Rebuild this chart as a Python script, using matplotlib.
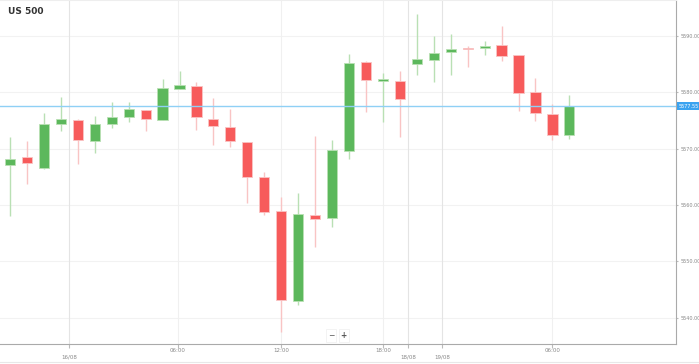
import numpy as np
import matplotlib.pyplot as plt

# hourly candles
opens = [5567.06, 5568.48, 5566.52, 5574.40, 5575.11, 5571.38, 5574.40, 5575.64, 5576.89, 5575.11,
         5580.62, 5581.16, 5575.29, 5573.92, 5571.15, 5564.92, 5558.93, 5542.99, 5558.17, 5557.64,
         5569.65, 5585.37, 5582.10, 5582.10, 5585.12, 5585.83, 5587.15, 5587.86, 5587.91, 5588.44,
         5586.61, 5580.04, 5576.12, 5572.39]
closes = [5568.12, 5567.41, 5574.35, 5575.29, 5571.56, 5574.35, 5575.59, 5577.01, 5575.29, 5580.80,
          5581.33, 5575.59, 5574.10, 5571.32, 5565.03, 5558.81, 5543.11, 5558.40, 5557.51, 5569.78,
          5585.30, 5582.22, 5582.35, 5578.79, 5586.01, 5587.08, 5587.73, 5587.68, 5588.21, 5586.49,
          5579.86, 5576.30, 5572.44, 5577.55]
highs = [5572.04, 5571.38, 5576.30, 5579.25, 5575.20, 5575.82, 5578.26, 5578.26, 5576.95, 5582.35,
         5583.82, 5581.87, 5579.08, 5577.01, 5571.20, 5565.81, 5561.37, 5562.08, 5572.27, 5571.56,
         5586.79, 5585.65, 5583.52, 5583.82, 5593.96, 5590.04, 5590.35, 5588.27, 5589.21, 5591.82,
         5586.70, 5582.52, 5577.96, 5579.50]
lows = [5558.10, 5563.68, 5566.40, 5573.16, 5567.34, 5569.19, 5573.74, 5574.70, 5573.10, 5575.05,
        5580.55, 5573.33, 5570.67, 5570.36, 5560.30, 5558.17, 5537.48, 5542.22, 5552.59, 5556.14,
        5568.12, 5576.59, 5574.70, 5572.14, 5583.06, 5581.87, 5583.06, 5584.59, 5586.61, 5585.55,
        5576.66, 5574.88, 5571.56, 5571.79]

tick_pos = [3.48, 9.91, 16.0, 22.0, 23.48, 25.49, 32.0]
tick_labels = ["16/08", "06:00", "12:00", "18:00", "18/08", "19/08", "06:00"]
tick_is_date = [True, False, False, False, True, True, False]
price_levels = [5540, 5550, 5560, 5570, 5580, 5590]
last_price = 5577.55

GREEN = "#5cb85c"
RED = "#f75b5b"
GREEN_WICK = "#b9e0b4"
RED_WICK = "#f9c4c4"

fig = plt.figure(figsize=(6.99, 3.64), dpi=100)
ax = fig.add_axes([0, 20 / 364, 676 / 699, 344 / 364])

x = np.arange(len(opens))
o = np.array(opens)
c = np.array(closes)
up = c >= o
body_lo = np.minimum(o, c)
body_h = np.maximum(np.abs(c - o), 0.25)

for i in x:
    col = GREEN if up[i] else RED
    wcol = GREEN_WICK if up[i] else RED_WICK
    ax.vlines(i, lows[i], highs[i], color=wcol, lw=1.0, zorder=2)
    ax.bar(i, body_h[i], bottom=body_lo[i], width=0.6, color=col,
           edgecolor=wcol, linewidth=0.6, zorder=3)

# grid
for p in price_levels:
    ax.axhline(p, color="#f2f2f2", lw=0.8, zorder=0)
for t, isd in zip(tick_pos, tick_is_date):
    ax.axvline(t, color="#e4e4e4" if isd else "#f0f0f0", lw=0.8, zorder=0)

# last price line + tag
ax.axhline(last_price, color="#8fd0f5", lw=1.0, zorder=4)
ax.text(1.004, last_price, f"{last_price:.2f}", transform=ax.get_yaxis_transform(),
        ha="left", va="center", fontsize=3.5, color="white",
        bbox=dict(boxstyle="square,pad=0.3", fc="#3aa3f0", ec="none"), zorder=5)

ax.set_xlim(-0.59, 39.29)
ax.set_ylim(5535.29, 5596.44)

ax.yaxis.tick_right()
ax.set_yticks(price_levels)
ax.set_yticklabels([f"{p:.2f}" for p in price_levels])
ax.tick_params(axis="y", labelsize=3.5, labelcolor="#888888", length=1.5, color="#bbbbbb", pad=1.5)

ax.set_xticks(tick_pos)
ax.set_xticklabels([])
ax.tick_params(axis="x", length=3, color="#bbbbbb")
for t, lab, isd in zip(tick_pos, tick_labels, tick_is_date):
    ax.annotate(lab, xy=(t, 0), xycoords=ax.get_xaxis_transform(),
                xytext=(0, -13 if isd else -7), textcoords="offset pixels",
                ha="center", va="center", fontsize=4.0, color="#888888",
                annotation_clip=False)

ax.spines["left"].set_visible(False)
ax.spines["top"].set_color("#eeeeee")
ax.spines["right"].set_color("#aaaaaa")
ax.spines["bottom"].set_color("#aaaaaa")

# title
ax.text(8 / 676, 1 - 11 / 344, "US 500", transform=ax.transAxes, ha="left", va="center",
        fontsize=6.5, fontweight="bold", color="#333333")

# zoom controls
ax.text(0.4895, 0.025, "\u2212", transform=ax.transAxes, ha="center", va="center",
        fontsize=5.5, color="#555555",
        bbox=dict(boxstyle="square,pad=0.25", fc="white", ec="#eeeeee", lw=0.5))
ax.text(0.5085, 0.025, "+", transform=ax.transAxes, ha="center", va="center",
        fontsize=5.5, color="#555555", fontweight="bold",
        bbox=dict(boxstyle="square,pad=0.25", fc="white", ec="#eeeeee", lw=0.5))

# bottom border line
fig.add_artist(plt.Line2D([0, 1], [2 / 364, 2 / 364], color="#e8e8e8", lw=0.8))

fig.savefig("out.png", dpi=100)
